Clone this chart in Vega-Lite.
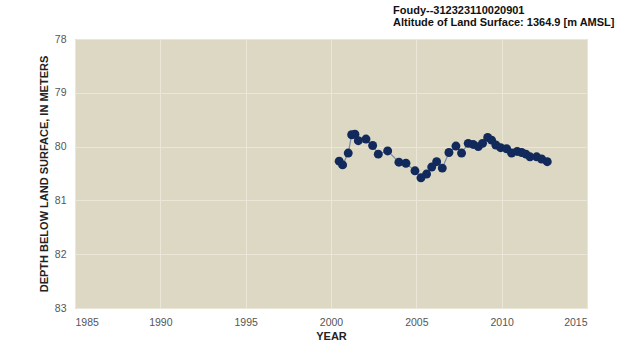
{
  "$schema": "https://vega.github.io/schema/vega-lite/v6.json",
  "autosize": "none",
  "width": 512,
  "height": 269,
  "padding": {"left": 75, "top": 39, "right": 46, "bottom": 39},
  "background": "#ffffff",
  "title": {
    "text": ["Foudy--312323110020901", "Altitude of Land Surface: 1364.9 [m AMSL]"],
    "anchor": "start",
    "frame": "group",
    "dx": 318,
    "offset": 6,
    "font": "Liberation Sans",
    "fontSize": 11,
    "fontWeight": "bold",
    "color": "#111111",
    "lineHeight": 12
  },
  "config": {
    "view": {"fill": "#dcd8c3", "stroke": "#bdb9a6", "strokeWidth": 1},
    "axis": {
      "labelFont": "Liberation Sans",
      "labelFontSize": 10.5,
      "labelColor": "#555555",
      "titleFont": "Liberation Sans",
      "titleFontSize": 11,
      "titleFontWeight": "bold",
      "titleColor": "#222222",
      "ticks": false,
      "domain": false,
      "gridColor": "#ebe7d8",
      "gridWidth": 1,
      "gridOpacity": 1
    }
  },
  "data": {
    "values": [
      {"year": 2000.48, "depth": 80.27},
      {"year": 2000.68, "depth": 80.34},
      {"year": 2001.01, "depth": 80.12},
      {"year": 2001.21, "depth": 79.78},
      {"year": 2001.40, "depth": 79.77},
      {"year": 2001.60, "depth": 79.89},
      {"year": 2002.05, "depth": 79.86},
      {"year": 2002.44, "depth": 79.98},
      {"year": 2002.77, "depth": 80.14},
      {"year": 2003.32, "depth": 80.08},
      {"year": 2003.98, "depth": 80.29},
      {"year": 2004.39, "depth": 80.31},
      {"year": 2004.92, "depth": 80.45},
      {"year": 2005.27, "depth": 80.58},
      {"year": 2005.60, "depth": 80.51},
      {"year": 2005.90, "depth": 80.38},
      {"year": 2006.19, "depth": 80.28},
      {"year": 2006.52, "depth": 80.40},
      {"year": 2006.91, "depth": 80.11},
      {"year": 2007.32, "depth": 79.99},
      {"year": 2007.65, "depth": 80.12},
      {"year": 2008.04, "depth": 79.94},
      {"year": 2008.33, "depth": 79.96},
      {"year": 2008.63, "depth": 80.00},
      {"year": 2008.88, "depth": 79.94},
      {"year": 2009.18, "depth": 79.83},
      {"year": 2009.41, "depth": 79.88},
      {"year": 2009.66, "depth": 79.97},
      {"year": 2009.94, "depth": 80.02},
      {"year": 2010.29, "depth": 80.04},
      {"year": 2010.58, "depth": 80.12},
      {"year": 2010.91, "depth": 80.09},
      {"year": 2011.17, "depth": 80.11},
      {"year": 2011.42, "depth": 80.14},
      {"year": 2011.66, "depth": 80.19},
      {"year": 2012.05, "depth": 80.19},
      {"year": 2012.34, "depth": 80.23},
      {"year": 2012.67, "depth": 80.28}
    ]
  },
  "encoding": {
    "x": {
      "field": "year",
      "type": "quantitative",
      "scale": {"domain": [1985, 2015], "nice": false, "zero": false},
      "axis": {"values": [1985, 1990, 1995, 2000, 2005, 2010, 2015], "format": "d", "title": "YEAR", "labelPadding": 9, "titlePadding": 3}
    },
    "y": {
      "field": "depth",
      "type": "quantitative",
      "scale": {"domain": [78, 83], "reverse": true, "nice": false, "zero": false},
      "axis": {"values": [78, 79, 80, 81, 82, 83], "title": "DEPTH BELOW LAND SURFACE, IN METERS", "labelPadding": 9, "titlePadding": 5}
    }
  },
  "layer": [
    {"mark": {"type": "line", "color": "#7a8aa8", "strokeWidth": 1.2}},
    {"mark": {"type": "point", "filled": true, "color": "#12295c", "opacity": 1, "size": 80}}
  ]
}
